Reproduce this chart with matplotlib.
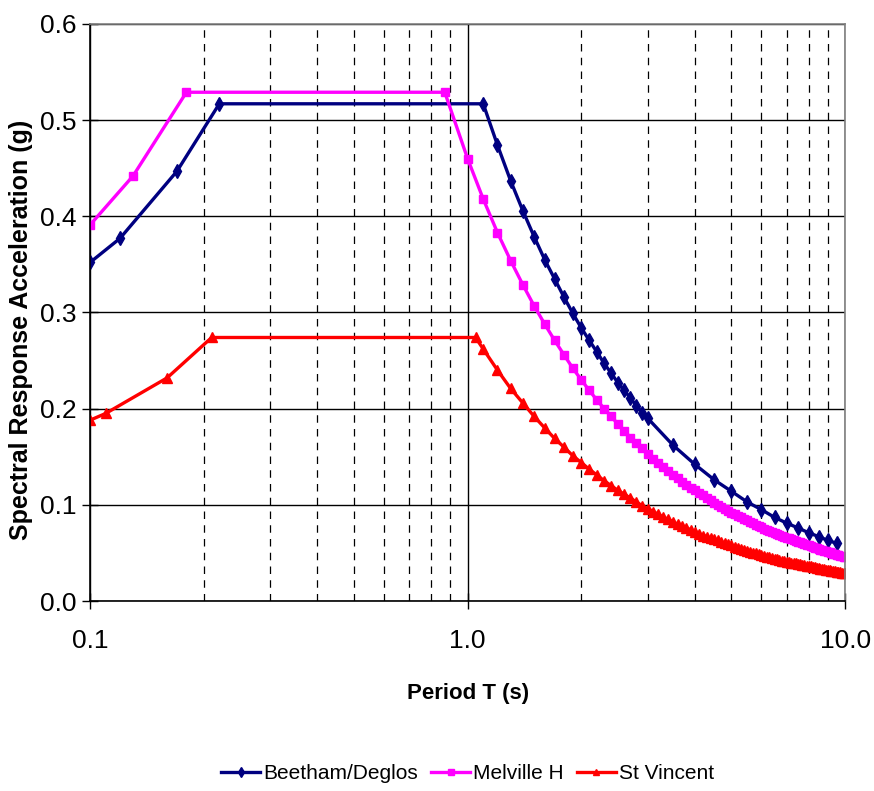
import numpy as np
import matplotlib
matplotlib.use("Agg")
import matplotlib.pyplot as plt
from matplotlib.ticker import FixedLocator, NullFormatter

plt.rcParams['font.family'] = ['Liberation Sans', 'DejaVu Sans']

# ---- data ----
beetham_T = [0.1, 0.12, 0.17, 0.22,
             1.1, 1.2, 1.3, 1.4, 1.5, 1.6, 1.7, 1.8, 1.9, 2.0,
             2.1, 2.2, 2.3, 2.4, 2.5, 2.6, 2.7, 2.8, 2.9, 3.0,
             3.5, 4.0, 4.5, 5.0, 5.5, 6.0, 6.5, 7.0, 7.5, 8.0, 8.5, 9.0, 9.5]
beetham_sa = [0.352, 0.377, 0.447, 0.517,
              0.517, 0.474, 0.437, 0.406, 0.379, 0.355, 0.335, 0.316, 0.299, 0.284,
              0.271, 0.259, 0.247, 0.237, 0.227, 0.219, 0.211, 0.203, 0.196, 0.190,
              0.162, 0.142, 0.126, 0.114, 0.103, 0.095, 0.087, 0.081, 0.076, 0.071,
              0.067, 0.063, 0.060]

melville_T = [0.1, 0.13, 0.18, 0.87,
              1.0, 1.1, 1.2, 1.3, 1.4, 1.5, 1.6, 1.7, 1.8, 1.9,
              2.0, 2.1, 2.2, 2.3, 2.4, 2.5, 2.6, 2.7, 2.8, 2.9,
              3.0, 3.1, 3.2, 3.3, 3.4, 3.5, 3.6, 3.7, 3.8, 3.9,
              4.0, 4.1, 4.2, 4.3, 4.4, 4.5, 4.6, 4.7, 4.8, 4.9,
              5.0, 5.1, 5.2, 5.3, 5.4, 5.5, 5.6, 5.7, 5.8, 5.9,
              6.0, 6.1, 6.2, 6.3, 6.4, 6.5, 6.6, 6.7, 6.8, 6.9,
              7.0, 7.1, 7.2, 7.3, 7.4, 7.5, 7.6, 7.7, 7.8, 7.9,
              8.0, 8.1, 8.2, 8.3, 8.4, 8.5, 8.6, 8.7, 8.8, 8.9,
              9.0, 9.1, 9.2, 9.3, 9.4, 9.5, 9.6, 9.7, 9.8, 9.9, 10.0]
melville_sa = [0.391, 0.442, 0.529, 0.529,
               0.460, 0.418, 0.383, 0.354, 0.329, 0.307, 0.288, 0.271, 0.256, 0.242,
               0.230, 0.219, 0.209, 0.200, 0.192, 0.184, 0.177, 0.170, 0.164, 0.159,
               0.153, 0.148, 0.144, 0.139, 0.135, 0.131, 0.128, 0.124, 0.121, 0.118,
               0.115, 0.112, 0.110, 0.107, 0.105, 0.102, 0.100, 0.098, 0.096, 0.094,
               0.092, 0.090, 0.088, 0.087, 0.085, 0.084, 0.082, 0.081, 0.079, 0.078,
               0.077, 0.075, 0.074, 0.073, 0.072, 0.071, 0.070, 0.069, 0.068, 0.067,
               0.066, 0.065, 0.064, 0.063, 0.062, 0.061, 0.061, 0.060, 0.059, 0.058,
               0.058, 0.057, 0.056, 0.055, 0.055, 0.054, 0.053, 0.053, 0.052, 0.052,
               0.051, 0.051, 0.050, 0.049, 0.049, 0.048, 0.048, 0.047, 0.047, 0.046, 0.046]

vincent_T = [0.1, 0.11, 0.16, 0.21, 1.05,
             1.1, 1.2, 1.3, 1.4, 1.5, 1.6, 1.7, 1.8, 1.9,
             2.0, 2.1, 2.2, 2.3, 2.4, 2.5, 2.6, 2.7, 2.8, 2.9,
             3.0, 3.1, 3.2, 3.3, 3.4, 3.5, 3.6, 3.7, 3.8, 3.9,
             4.0, 4.1, 4.2, 4.3, 4.4, 4.5, 4.6, 4.7, 4.8, 4.9,
             5.0, 5.1, 5.2, 5.3, 5.4, 5.5, 5.6, 5.7, 5.8, 5.9,
             6.0, 6.1, 6.2, 6.3, 6.4, 6.5, 6.6, 6.7, 6.8, 6.9,
             7.0, 7.1, 7.2, 7.3, 7.4, 7.5, 7.6, 7.7, 7.8, 7.9,
             8.0, 8.1, 8.2, 8.3, 8.4, 8.5, 8.6, 8.7, 8.8, 8.9,
             9.0, 9.1, 9.2, 9.3, 9.4, 9.5, 9.6, 9.7, 9.8, 9.9, 10.0]
vincent_sa = [0.188, 0.195, 0.232, 0.274, 0.274,
              0.262, 0.240, 0.221, 0.206, 0.192, 0.180, 0.169, 0.160, 0.151,
              0.144, 0.137, 0.131, 0.125, 0.120, 0.115, 0.111, 0.107, 0.103, 0.099,
              0.096, 0.093, 0.090, 0.087, 0.085, 0.082, 0.080, 0.078, 0.076, 0.074,
              0.072, 0.070, 0.068, 0.067, 0.065, 0.064, 0.063, 0.061, 0.060, 0.059,
              0.058, 0.056, 0.055, 0.054, 0.053, 0.052, 0.051, 0.050, 0.050, 0.049,
              0.048, 0.047, 0.046, 0.046, 0.045, 0.044, 0.044, 0.043, 0.042, 0.042,
              0.041, 0.041, 0.040, 0.039, 0.039, 0.038, 0.038, 0.037, 0.037, 0.036,
              0.036, 0.036, 0.035, 0.035, 0.034, 0.034, 0.033, 0.033, 0.033, 0.032,
              0.032, 0.032, 0.031, 0.031, 0.031, 0.030, 0.030, 0.030, 0.029, 0.029, 0.029]

y_ticks = [0.0, 0.1, 0.2, 0.3, 0.4, 0.5, 0.6]
x_ticks = [0.1, 1.0, 10.0]
x_minor = [0.2, 0.3, 0.4, 0.5, 0.6, 0.7, 0.8, 0.9, 2, 3, 4, 5, 6, 7, 8, 9]

# ---- figure ----
fig = plt.figure(figsize=(8.74, 7.91), dpi=100)
ax = fig.add_axes([0.103, 0.2402, 0.864, 0.7295])

ax.plot(beetham_T, beetham_sa, color='#000080', lw=2.4, marker='d', ms=7,
        label='Beetham/Deglos')
ax.plot(melville_T, melville_sa, color='#FF00FF', lw=2.4, marker='s', ms=5.5,
        label='Melville H')
ax.plot(vincent_T, vincent_sa, color='#FF0000', lw=2.4, marker='^', ms=7,
        label='St Vincent')

ax.set_xscale('log')
ax.set_xlim(0.1, 10)
ax.set_ylim(0, 0.6)

ax.xaxis.set_major_locator(FixedLocator(x_ticks))
ax.xaxis.set_minor_locator(FixedLocator(x_minor))
ax.xaxis.set_minor_formatter(NullFormatter())
ax.set_xticklabels(['0.1', '1.0', '10.0'])
ax.set_yticks(y_ticks)
ax.set_yticklabels([f"{v:.1f}" for v in y_ticks])

# grid lines
ax.grid(True, which='major', axis='y', color='black', lw=1, ls='-')
ax.grid(True, which='major', axis='x', color='black', lw=1, ls='-')
ax.grid(True, which='minor', axis='x', color='black', lw=0.9, ls=(0, (6, 5)))
ax.set_axisbelow(True)

ax.tick_params(axis='both', which='major', labelsize=19, direction='inout', length=12, width=1)
ax.tick_params(axis='x', which='major', pad=14)
ax.tick_params(axis='y', which='major', pad=4)
ax.tick_params(axis='x', which='minor', length=0)

for side in ['left', 'bottom']:
    ax.spines[side].set_color('black')
    ax.spines[side].set_linewidth(1.2)
for side in ['top', 'right']:
    ax.spines[side].set_color('#808080')
    ax.spines[side].set_linewidth(1.2)

ax.set_ylabel('Spectral Response Acceleration (g)', fontsize=18, fontweight='bold', labelpad=6)
ax.yaxis.set_label_coords(-0.075, 0.47)
ax.set_xlabel('Period T (s)', fontsize=16, fontweight='bold', labelpad=22)

fig.legend(loc='center', bbox_to_anchor=(0.535, 0.022), ncol=3, frameon=False,
           fontsize=15, handlelength=1.9, handletextpad=0.15, columnspacing=0.6,
           markerscale=0.7)

fig.savefig('out.png', dpi=100)
